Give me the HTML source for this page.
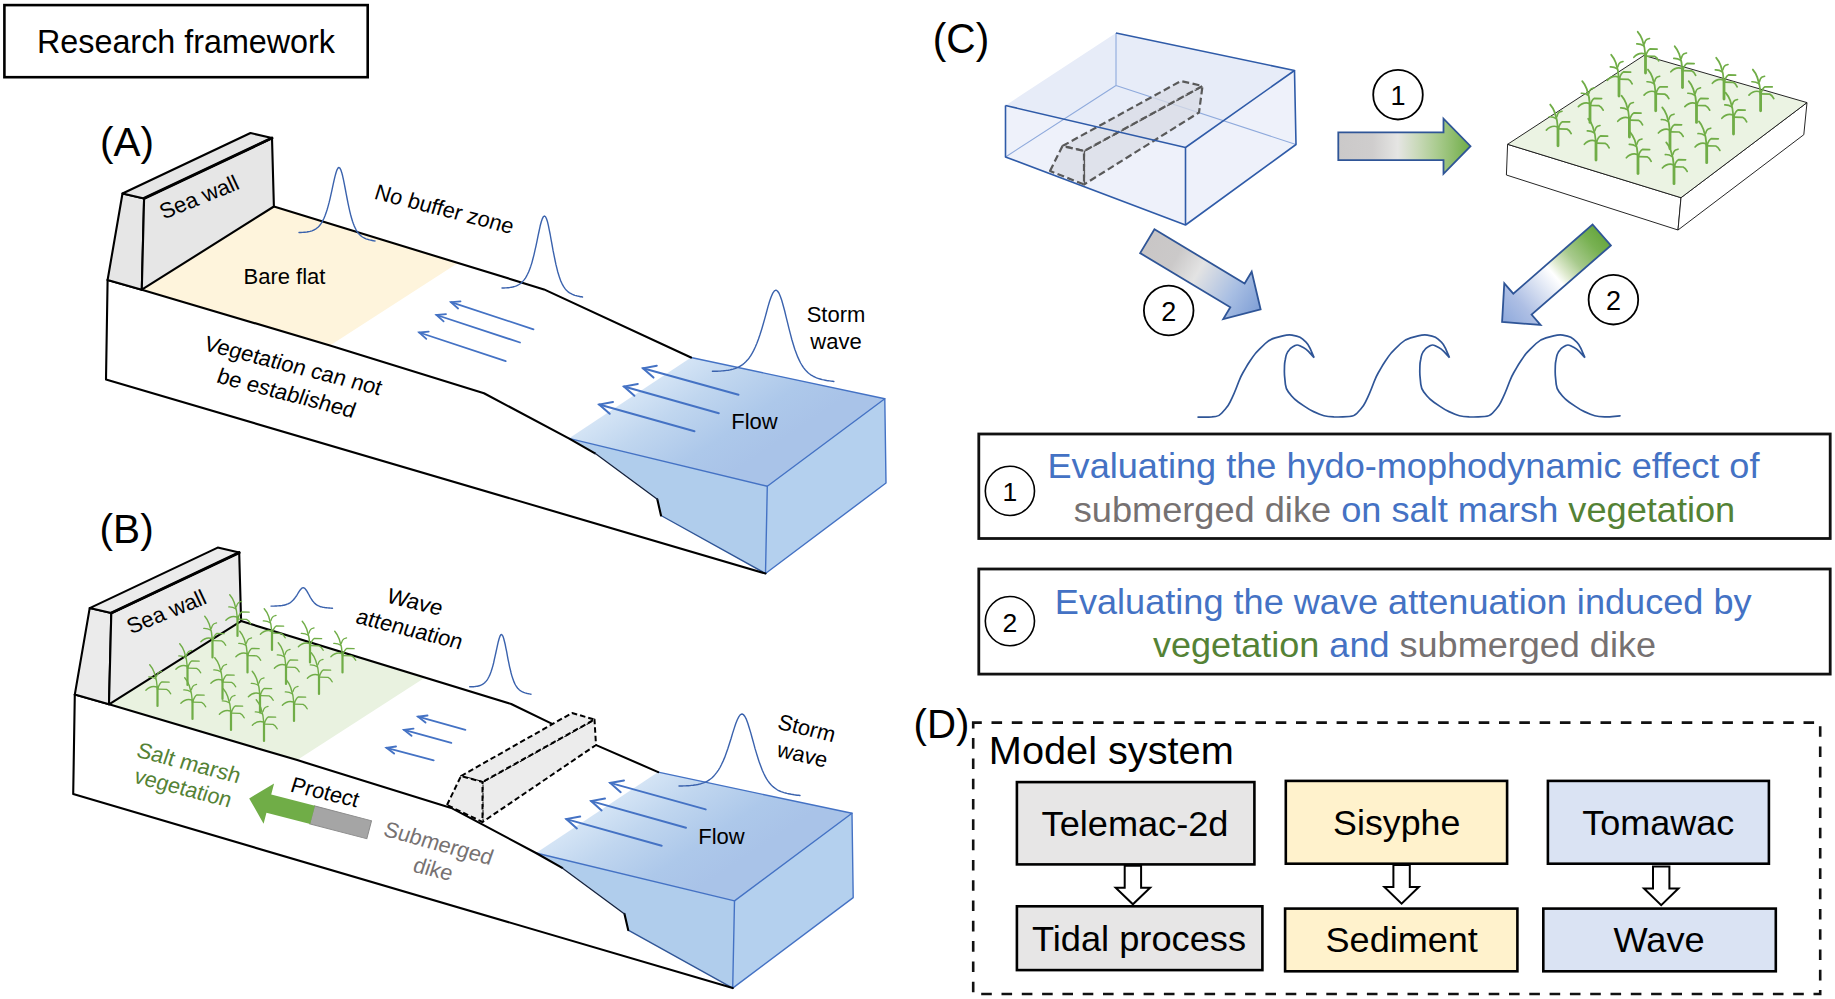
<!DOCTYPE html>
<html lang="en"><head><meta charset="utf-8"><title>Research framework</title>
<style>
html,body{margin:0;padding:0;background:#fff;}
body{width:1835px;height:999px;overflow:hidden;}
svg{display:block;}
text{font-family:"Liberation Sans",Arial,sans-serif;}
</style></head><body>
<svg width="1835" height="999" viewBox="0 0 1835 999">
<defs>
<linearGradient id="gWater" gradientUnits="userSpaceOnUse" x1="630" y1="398" x2="696" y2="497">
<stop offset="0" stop-color="#d4e4f5"/><stop offset="0.3" stop-color="#c0d6ef"/><stop offset="0.7" stop-color="#adc8ea"/><stop offset="1" stop-color="#a9c3e8"/>
</linearGradient>
<linearGradient id="gArrow1" x1="0" y1="0" x2="1" y2="0">
<stop offset="0" stop-color="#cbc9c9"/><stop offset="0.26" stop-color="#cfcdcd"/><stop offset="0.45" stop-color="#e5e5e3"/><stop offset="0.6" stop-color="#c9d9b9"/><stop offset="0.75" stop-color="#a9cb8e"/><stop offset="0.85" stop-color="#93bf72"/><stop offset="0.94" stop-color="#7db458"/><stop offset="1" stop-color="#6fac46"/>
</linearGradient>
<linearGradient id="gArrow2" x1="0" y1="0" x2="1" y2="0">
<stop offset="0" stop-color="#c9c6c6"/><stop offset="0.25" stop-color="#cbc9c9"/><stop offset="0.45" stop-color="#e3e3e3"/><stop offset="0.75" stop-color="#a9bfe3"/><stop offset="1" stop-color="#7f9fd6"/>
</linearGradient>
<linearGradient id="gArrow3" x1="0" y1="0" x2="1" y2="0">
<stop offset="0" stop-color="#69a741"/><stop offset="0.1" stop-color="#78b152"/><stop offset="0.28" stop-color="#a8ca8d"/><stop offset="0.4" stop-color="#dfeacf"/><stop offset="0.47" stop-color="#ffffff"/><stop offset="0.6" stop-color="#dfe6f4"/><stop offset="0.8" stop-color="#aebfe4"/><stop offset="1" stop-color="#8ea9dc"/>
</linearGradient>
<g id="plant" fill="none" stroke="#70ad47" stroke-linecap="round" stroke-linejoin="round">
<path d="M0,0 L0,-19" stroke-width="2.3"/>
<path d="M0,-17 Q-0.6,-27 -3.4,-34.5 Q-5.3,-39.5 -8,-42.5" stroke-width="1.5"/>
<path d="M0.4,-17.4 L9.4,-17.2 Q11.8,-16.2 13.6,-12.6" stroke-width="1.4"/>
<path d="M0.4,-18 Q2,-23.4 4.6,-24.8 L12,-24.6" stroke-width="1.4"/>
<path d="M-0.4,-19.6 Q-7,-21.6 -12,-16.2" stroke-width="1.4"/>
<path d="M-1.8,-28 Q-5,-30.2 -9,-30" stroke-width="1.3"/>
<path d="M-1.2,-30 Q-0.2,-34 1.6,-34.8 L4.2,-35.6" stroke-width="1.3"/>
</g>
<g id="plantC" fill="none" stroke="#70ad47" stroke-linecap="round" stroke-linejoin="round">
<path d="M0,0 L0,-19" stroke-width="2.88"/>
<path d="M0,-17 Q-0.6,-27 -3.4,-34.5 Q-5.3,-39.5 -8,-42.5" stroke-width="1.88"/>
<path d="M0.4,-17.4 L9.4,-17.2 Q11.8,-16.2 13.6,-12.6" stroke-width="1.75"/>
<path d="M0.4,-18 Q2,-23.4 4.6,-24.8 L12,-24.6" stroke-width="1.75"/>
<path d="M-0.4,-19.6 Q-7,-21.6 -12,-16.2" stroke-width="1.75"/>
<path d="M-1.8,-28 Q-5,-30.2 -9,-30" stroke-width="1.62"/>
<path d="M-1.2,-30 Q-0.2,-34 1.6,-34.8 L4.2,-35.6" stroke-width="1.62"/>
</g>
<path id="bigArrow" d="M0,-13.9 L105.2,-13.9 L105.2,-27.6 L132.2,0 L105.2,27.6 L105.2,13.9 L0,13.9 Z"/>
<path id="downArrow" d="M-8.2,0 L8.2,0 L8.2,22 L17.2,22 L0,38.6 L-17.2,22 L-8.2,22 Z" fill="#fff" stroke="#000" stroke-width="2" stroke-linejoin="miter"/>
</defs>
<rect x="0" y="0" width="1835" height="999" fill="#fff"/>

<rect x="4.4" y="5.1" width="363.3" height="72.1" fill="#fff" stroke="#000" stroke-width="2.6"/>
<text x="37" y="52.5" font-size="32.5" textLength="298" lengthAdjust="spacingAndGlyphs" fill="#000">Research framework</text>
<g transform="translate(0.0,0.0)">
<polygon points="107.6,280.0 141.8,289.7 273.9,206.5 542.5,289.0 691.0,357.5 884.8,398.7 886.0,483.0 765.5,573.5 106.0,379.5" fill="#fff" stroke="none"/>
<polygon points="141.8,289.7 273.9,206.5 457.9,263.0 330.0,345.5" fill="#fef4dc"/>
<polygon points="568.8,438.4 691.0,357.5 884.8,398.7 767.3,486.3" fill="url(#gWater)"/>
<polygon points="568.8,438.4 767.3,486.3 765.5,573.5 661.0,515.5 657.3,499.3 596.0,453.7" fill="#b0cdec"/>
<polygon points="767.3,486.3 884.8,398.7 886.0,483.0 765.5,573.5" fill="#b4d0ee"/>
<g fill="none" stroke="#4472c4" stroke-width="1.4" stroke-linejoin="round" stroke-linecap="round">
<path d="M691,357.5 L884.8,398.7 L767.3,486.3 L568.8,438.4"/>
<path d="M884.8,398.7 L886,483 L765.5,573.5 L767.3,486.3"/>
<path d="M661,515.5 L765.5,573.5" stroke="#2f5597"/>
</g>
<g fill="none" stroke="#000" stroke-width="2.1" stroke-linejoin="round" stroke-linecap="round">
<path d="M107.6,280 L106,379.5 L765.5,573.5"/>
<path d="M107.6,280 L141.8,289.7 L330,345.5 L484,393.3 L568.8,438.4 L595,453.3"/>
<path d="M657.3,499.3 L661,515.5"/>
<path d="M595,453.3 L657.3,499.3" stroke="#14213d" stroke-width="1.3"/>
<path d="M273.9,206.5 L544,289.4 L691,357.5"/>
</g>
<g stroke="#000" stroke-width="2.1" stroke-linejoin="round">
<polygon points="122.5,193.5 144.1,198.4 141.8,289.7 107.6,280.0" fill="#e6e6e6"/>
<polygon points="144.1,198.4 272.0,138.0 273.9,206.5 141.8,289.7" fill="#e6e6e6"/>
<polygon points="122.5,193.5 250.5,133.0 272.0,138.0 144.1,198.4" fill="#e6e6e6"/>
</g>
<path d="M144.1,198.4 L272,138" stroke="#000" stroke-width="2.9" stroke-linecap="round"/>
<text transform="translate(202.3,204.0) rotate(-22.0) skewX(3.0) scale(1.000,1)" font-size="22.0" text-anchor="middle" fill="#000" >Sea wall</text>
</g>
<text x="100" y="155.9" font-size="40.5" fill="#000">(A)</text>
<g fill="none" stroke="#3a62ad" stroke-width="1.4" stroke-linejoin="round" stroke-linecap="round">
<path d="M299.0,232.5 L300.0,232.5 L301.0,232.5 L302.0,232.4 L303.0,232.4 L304.0,232.3 L305.0,232.2 L306.0,232.1 L307.0,232.0 L308.0,231.8 L309.0,231.6 L310.0,231.4 L311.0,231.1 L312.0,230.8 L313.0,230.4 L314.0,230.0 L315.0,229.4 L316.0,228.8 L317.0,228.0 L318.0,227.2 L319.0,226.2 L320.0,225.0 L321.0,223.6 L322.0,222.1 L323.0,220.2 L324.0,218.2 L325.0,215.8 L326.0,213.1 L327.0,210.0 L328.0,206.6 L329.0,202.9 L330.0,198.8 L331.0,194.4 L332.0,189.9 L333.0,185.2 L334.0,180.6 L335.0,176.4 L336.0,172.7 L337.0,169.8 L338.0,168.0 L339.0,167.5 L339.9,168.1 L340.8,169.8 L341.7,172.4 L342.6,175.8 L343.5,179.8 L344.4,184.3 L345.3,189.0 L346.2,193.8 L347.1,198.5 L348.0,203.1 L348.9,207.3 L349.8,211.3 L350.7,215.0 L351.6,218.2 L352.5,221.2 L353.4,223.8 L354.3,226.1 L355.2,228.0 L356.1,229.8 L357.0,231.3 L357.9,232.6 L358.8,233.8 L359.7,234.7 L360.6,235.6 L361.5,236.3 L362.4,237.0 L363.3,237.5 L364.2,238.0 L365.1,238.4 L366.0,238.8 L366.9,239.1 L367.8,239.4 L368.7,239.7 L369.6,239.9 L370.5,240.1 L371.4,240.3 L372.3,240.5 L373.2,240.7 L374.1,240.9 L375.0,241.0"/>
<path d="M502.0,288.0 L503.1,288.0 L504.1,288.0 L505.2,287.9 L506.2,287.9 L507.3,287.8 L508.4,287.7 L509.4,287.6 L510.5,287.4 L511.6,287.2 L512.6,287.0 L513.7,286.7 L514.8,286.4 L515.8,286.1 L516.9,285.6 L517.9,285.1 L519.0,284.5 L520.1,283.8 L521.1,283.0 L522.2,282.0 L523.2,280.9 L524.3,279.6 L525.4,278.1 L526.4,276.4 L527.5,274.3 L528.6,272.0 L529.6,269.4 L530.7,266.4 L531.8,263.1 L532.8,259.3 L533.9,255.1 L534.9,250.6 L536.0,245.8 L537.1,240.7 L538.1,235.6 L539.2,230.5 L540.2,225.8 L541.3,221.7 L542.4,218.6 L543.4,216.6 L544.5,216.0 L545.5,216.7 L546.4,218.5 L547.4,221.4 L548.3,225.1 L549.2,229.6 L550.2,234.5 L551.1,239.7 L552.1,245.0 L553.0,250.2 L554.0,255.2 L555.0,260.0 L555.9,264.4 L556.9,268.4 L557.8,272.0 L558.8,275.2 L559.7,278.1 L560.6,280.6 L561.6,282.8 L562.5,284.7 L563.5,286.4 L564.5,287.8 L565.4,289.1 L566.4,290.2 L567.3,291.1 L568.2,291.9 L569.2,292.6 L570.1,293.2 L571.1,293.7 L572.0,294.2 L573.0,294.6 L574.0,295.0 L574.9,295.3 L575.9,295.6 L576.8,295.8 L577.8,296.1 L578.7,296.3 L579.6,296.5 L580.6,296.7 L581.5,296.8 L582.5,297.0"/>
<path d="M712.4,371.3 L714.0,371.3 L715.6,371.3 L717.2,371.2 L718.8,371.1 L720.4,371.1 L721.9,370.9 L723.5,370.8 L725.1,370.6 L726.7,370.4 L728.3,370.2 L729.9,369.9 L731.5,369.5 L733.1,369.1 L734.7,368.6 L736.2,368.0 L737.8,367.4 L739.4,366.6 L741.0,365.6 L742.6,364.6 L744.2,363.3 L745.8,361.8 L747.4,360.1 L749.0,358.2 L750.6,355.9 L752.1,353.3 L753.7,350.4 L755.3,347.0 L756.9,343.2 L758.5,339.0 L760.1,334.3 L761.7,329.2 L763.3,323.8 L764.9,318.1 L766.5,312.3 L768.0,306.6 L769.6,301.3 L771.2,296.7 L772.8,293.1 L774.4,290.9 L776.0,290.2 L777.4,291.0 L778.9,293.0 L780.3,296.3 L781.8,300.5 L783.2,305.5 L784.7,311.0 L786.1,316.9 L787.6,322.9 L789.0,328.7 L790.5,334.4 L791.9,339.7 L793.4,344.7 L794.8,349.2 L796.3,353.3 L797.7,356.9 L799.2,360.1 L800.6,363.0 L802.1,365.5 L803.5,367.6 L805.0,369.5 L806.4,371.1 L807.8,372.5 L809.3,373.8 L810.7,374.8 L812.2,375.7 L813.6,376.5 L815.1,377.2 L816.5,377.8 L818.0,378.3 L819.4,378.8 L820.9,379.2 L822.3,379.6 L823.8,379.9 L825.2,380.2 L826.7,380.5 L828.1,380.7 L829.6,380.9 L831.0,381.1 L832.5,381.3 L833.9,381.5"/>
</g>
<g fill="none" stroke="#4472c4" stroke-width="1.8" stroke-linecap="round" stroke-linejoin="miter"><path d="M533.5,329.3 L451.0,302.2" /><path d="M458.1,308.5 L451.0,302.2 L460.5,301.4" /></g>
<g fill="none" stroke="#4472c4" stroke-width="1.8" stroke-linecap="round" stroke-linejoin="miter"><path d="M520.0,342.5 L436.5,315.0" /><path d="M443.6,321.3 L436.5,315.0 L446.0,314.2" /></g>
<g fill="none" stroke="#4472c4" stroke-width="1.8" stroke-linecap="round" stroke-linejoin="miter"><path d="M505.7,361.2 L419.2,332.5" /><path d="M426.3,338.8 L419.2,332.5 L428.7,331.7" /></g>
<g fill="none" stroke="#4472c4" stroke-width="2.0" stroke-linecap="round" stroke-linejoin="miter"><path d="M738.5,394.8 L643.0,368.3" /><path d="M653.5,377.6 L643.0,368.3 L656.8,365.8" /></g>
<g fill="none" stroke="#4472c4" stroke-width="2.0" stroke-linecap="round" stroke-linejoin="miter"><path d="M718.8,413.2 L624.0,386.5" /><path d="M634.4,395.8 L624.0,386.5 L637.8,384.0" /></g>
<g fill="none" stroke="#4472c4" stroke-width="2.0" stroke-linecap="round" stroke-linejoin="miter"><path d="M694.5,431.2 L599.2,404.5" /><path d="M609.7,413.8 L599.2,404.5 L613.0,402.0" /></g>
<text x="243.5" y="283.5" font-size="22" fill="#000">Bare flat</text>
<text transform="translate(442.3,216.2) rotate(14.4) skewX(-3.0) scale(0.990,1)" font-size="22.0" text-anchor="middle" fill="#000" >No buffer zone</text>
<text transform="translate(290.8,372.6) rotate(14.4) skewX(-5.0) scale(1.000,1)" font-size="22.0" text-anchor="middle" fill="#000" >Vegetation can not</text>
<text transform="translate(284.0,400.2) rotate(14.6) skewX(-5.0) scale(1.000,1)" font-size="22.0" text-anchor="middle" fill="#000" >be established</text>
<text x="836" y="322" font-size="22" text-anchor="middle" fill="#000">Storm</text>
<text x="836" y="348.5" font-size="22" text-anchor="middle" fill="#000">wave</text>
<text x="754.5" y="428.5" font-size="22" text-anchor="middle" fill="#000">Flow</text>
<g transform="translate(-32.8,414.6)">
<polygon points="107.6,280.0 141.8,289.7 273.9,206.5 542.5,289.0 691.0,357.5 884.8,398.7 886.0,483.0 765.5,573.5 106.0,379.5" fill="#fff" stroke="none"/>
<polygon points="141.8,289.7 273.9,206.5 457.9,263.0 330.0,345.5" fill="#e9f2e0"/>
<polygon points="568.8,438.4 691.0,357.5 884.8,398.7 767.3,486.3" fill="url(#gWater)"/>
<polygon points="568.8,438.4 767.3,486.3 765.5,573.5 661.0,515.5 657.3,499.3 596.0,453.7" fill="#b0cdec"/>
<polygon points="767.3,486.3 884.8,398.7 886.0,483.0 765.5,573.5" fill="#b4d0ee"/>
<g fill="none" stroke="#4472c4" stroke-width="1.4" stroke-linejoin="round" stroke-linecap="round">
<path d="M691,357.5 L884.8,398.7 L767.3,486.3 L568.8,438.4"/>
<path d="M884.8,398.7 L886,483 L765.5,573.5 L767.3,486.3"/>
<path d="M661,515.5 L765.5,573.5" stroke="#2f5597"/>
</g>
<g fill="none" stroke="#000" stroke-width="2.1" stroke-linejoin="round" stroke-linecap="round">
<path d="M107.6,280 L106,379.5 L765.5,573.5"/>
<path d="M107.6,280 L141.8,289.7 L330,345.5 L484,393.3 L568.8,438.4 L595,453.3"/>
<path d="M657.3,499.3 L661,515.5"/>
<path d="M595,453.3 L657.3,499.3" stroke="#14213d" stroke-width="1.3"/>
<path d="M273.9,206.5 L544,289.4 L585.5,309.5"/>
<path d="M629,330.5 L691,357.5"/>
</g>
<g stroke="#000" stroke-width="2.1" stroke-linejoin="round">
<polygon points="122.5,193.5 144.1,198.4 141.8,289.7 107.6,280.0" fill="#ebebeb"/>
<polygon points="144.1,198.4 272.0,138.0 273.9,206.5 141.8,289.7" fill="#ebebeb"/>
<polygon points="122.5,193.5 250.5,133.0 272.0,138.0 144.1,198.4" fill="#ebebeb"/>
</g>
<path d="M144.1,198.4 L272,138" stroke="#000" stroke-width="2.9" stroke-linecap="round"/>
<text transform="translate(202.3,204.0) rotate(-22.0) skewX(3.0) scale(1.000,1)" font-size="22.0" text-anchor="middle" fill="#000" >Sea wall</text>
</g>
<text x="99.6" y="543.2" font-size="40.6" fill="#000">(B)</text>
<use href="#plant" transform="translate(237.5,636.0) scale(0.97)"/>
<use href="#plant" transform="translate(272.0,650.0) scale(0.97)"/>
<use href="#plant" transform="translate(212.5,657.5) scale(0.97)"/>
<use href="#plant" transform="translate(310.0,662.5) scale(0.97)"/>
<use href="#plant" transform="translate(247.5,672.5) scale(0.97)"/>
<use href="#plant" transform="translate(342.5,672.5) scale(0.97)"/>
<use href="#plant" transform="translate(286.0,684.0) scale(0.97)"/>
<use href="#plant" transform="translate(187.5,685.0) scale(0.97)"/>
<use href="#plant" transform="translate(319.0,694.0) scale(0.97)"/>
<use href="#plant" transform="translate(222.5,699.0) scale(0.97)"/>
<use href="#plant" transform="translate(157.5,706.0) scale(0.97)"/>
<use href="#plant" transform="translate(260.0,712.5) scale(0.97)"/>
<use href="#plant" transform="translate(192.5,719.0) scale(0.97)"/>
<use href="#plant" transform="translate(294.0,721.0) scale(0.97)"/>
<use href="#plant" transform="translate(231.0,730.0) scale(0.97)"/>
<use href="#plant" transform="translate(264.0,741.0) scale(0.97)"/>
<g fill="none" stroke="#3a62ad" stroke-width="1.4" stroke-linejoin="round" stroke-linecap="round">
<path d="M271.0,606.1 L271.8,606.1 L272.6,606.1 L273.4,606.1 L274.2,606.1 L275.0,606.0 L275.8,606.0 L276.6,606.0 L277.4,605.9 L278.2,605.9 L279.1,605.8 L279.9,605.8 L280.7,605.7 L281.5,605.6 L282.3,605.5 L283.1,605.3 L283.9,605.2 L284.7,605.0 L285.5,604.8 L286.3,604.5 L287.1,604.2 L287.9,603.9 L288.7,603.5 L289.5,603.1 L290.3,602.6 L291.1,602.0 L291.9,601.3 L292.7,600.5 L293.5,599.7 L294.3,598.7 L295.1,597.7 L296.0,596.5 L296.8,595.3 L297.6,594.0 L298.4,592.7 L299.2,591.4 L300.0,590.2 L300.8,589.2 L301.6,588.4 L302.4,587.9 L303.2,587.7 L303.9,587.9 L304.7,588.3 L305.4,589.1 L306.1,590.0 L306.9,591.1 L307.6,592.4 L308.3,593.7 L309.1,595.0 L309.8,596.4 L310.5,597.6 L311.3,598.8 L312.0,600.0 L312.7,601.0 L313.5,601.9 L314.2,602.7 L314.9,603.4 L315.7,604.1 L316.4,604.6 L317.1,605.1 L317.9,605.5 L318.6,605.9 L319.3,606.2 L320.0,606.5 L320.8,606.7 L321.5,606.9 L322.2,607.1 L323.0,607.3 L323.7,607.4 L324.4,607.5 L325.2,607.6 L325.9,607.7 L326.6,607.8 L327.4,607.9 L328.1,607.9 L328.8,608.0 L329.6,608.0 L330.3,608.1 L331.0,608.1 L331.8,608.2 L332.5,608.2"/>
<path d="M469.7,686.8 L470.5,686.8 L471.3,686.8 L472.1,686.8 L472.9,686.7 L473.7,686.7 L474.5,686.6 L475.3,686.5 L476.1,686.4 L476.9,686.3 L477.6,686.2 L478.4,686.0 L479.2,685.8 L480.0,685.5 L480.8,685.2 L481.6,684.8 L482.4,684.4 L483.2,683.9 L484.0,683.3 L484.8,682.6 L485.6,681.8 L486.4,680.9 L487.2,679.8 L488.0,678.5 L488.8,677.0 L489.6,675.4 L490.4,673.4 L491.2,671.3 L492.0,668.8 L492.8,666.1 L493.6,663.0 L494.3,659.7 L495.1,656.2 L495.9,652.5 L496.7,648.8 L497.5,645.1 L498.3,641.7 L499.1,638.7 L499.9,636.4 L500.7,634.9 L501.5,634.5 L502.2,635.0 L503.0,636.4 L503.7,638.5 L504.4,641.2 L505.2,644.5 L505.9,648.1 L506.7,651.9 L507.4,655.8 L508.1,659.6 L508.9,663.3 L509.6,666.8 L510.4,670.0 L511.1,673.0 L511.8,675.6 L512.6,678.0 L513.3,680.1 L514.0,681.9 L514.8,683.6 L515.5,685.0 L516.2,686.2 L517.0,687.3 L517.7,688.2 L518.5,689.0 L519.2,689.7 L519.9,690.3 L520.7,690.8 L521.4,691.3 L522.1,691.7 L522.9,692.0 L523.6,692.3 L524.4,692.6 L525.1,692.9 L525.8,693.1 L526.6,693.3 L527.3,693.5 L528.0,693.6 L528.8,693.8 L529.5,693.9 L530.3,694.1 L531.0,694.2"/>
<path d="M679.0,786.0 L680.6,786.0 L682.1,786.0 L683.7,785.9 L685.3,785.9 L686.9,785.8 L688.5,785.7 L690.0,785.6 L691.6,785.4 L693.2,785.3 L694.8,785.0 L696.3,784.8 L697.9,784.5 L699.5,784.1 L701.0,783.7 L702.6,783.2 L704.2,782.6 L705.8,781.9 L707.4,781.1 L708.9,780.1 L710.5,779.0 L712.1,777.7 L713.6,776.2 L715.2,774.4 L716.8,772.4 L718.4,770.1 L720.0,767.5 L721.5,764.5 L723.1,761.1 L724.7,757.4 L726.2,753.2 L727.8,748.7 L729.4,743.8 L731.0,738.8 L732.5,733.6 L734.1,728.6 L735.7,723.8 L737.3,719.7 L738.9,716.6 L740.4,714.6 L742.0,714.0 L743.5,714.7 L744.9,716.5 L746.4,719.4 L747.8,723.2 L749.2,727.7 L750.7,732.6 L752.1,737.8 L753.6,743.1 L755.0,748.4 L756.5,753.4 L758.0,758.2 L759.4,762.6 L760.9,766.6 L762.3,770.2 L763.8,773.5 L765.2,776.4 L766.6,778.9 L768.1,781.1 L769.5,783.0 L771.0,784.7 L772.5,786.2 L773.9,787.4 L775.4,788.5 L776.8,789.5 L778.2,790.3 L779.7,791.0 L781.1,791.6 L782.6,792.1 L784.0,792.6 L785.5,793.0 L787.0,793.4 L788.4,793.7 L789.9,794.0 L791.3,794.3 L792.8,794.5 L794.2,794.8 L795.6,795.0 L797.1,795.2 L798.5,795.3 L800.0,795.5"/>
</g>
<g fill="none" stroke="#4472c4" stroke-width="1.9" stroke-linecap="round" stroke-linejoin="miter"><path d="M465.4,729.8 L418.1,716.7" /><path d="M425.5,722.6 L418.1,716.7 L427.5,715.5" /></g>
<g fill="none" stroke="#4472c4" stroke-width="1.9" stroke-linecap="round" stroke-linejoin="miter"><path d="M451.3,742.9 L404.1,729.9" /><path d="M411.5,735.8 L404.1,729.9 L413.5,728.6" /></g>
<g fill="none" stroke="#4472c4" stroke-width="1.9" stroke-linecap="round" stroke-linejoin="miter"><path d="M433.7,760.3 L386.6,747.8" /><path d="M394.1,753.6 L386.6,747.8 L396.0,746.5" /></g>
<g fill="none" stroke="#4472c4" stroke-width="2.0" stroke-linecap="round" stroke-linejoin="miter"><path d="M705.7,809.4 L610.2,782.9" /><path d="M620.7,792.2 L610.2,782.9 L624.0,780.4" /></g>
<g fill="none" stroke="#4472c4" stroke-width="2.0" stroke-linecap="round" stroke-linejoin="miter"><path d="M686.0,827.8 L591.2,801.1" /><path d="M601.6,810.4 L591.2,801.1 L605.0,798.6" /></g>
<g fill="none" stroke="#4472c4" stroke-width="2.0" stroke-linecap="round" stroke-linejoin="miter"><path d="M661.7,845.8 L566.4,819.1" /><path d="M576.9,828.4 L566.4,819.1 L580.2,816.6" /></g>
<g stroke="#000" stroke-width="2" stroke-dasharray="5.5,3" stroke-linejoin="round" fill="#ececec">
<polygon points="482.5,782.0 594.5,719.5 596.0,745.0 482.5,822.0"/>
<polygon points="461.0,776.0 572.0,713.0 594.5,719.5 482.5,782.0"/>
<polygon points="447.0,805.0 461.0,776.0 482.5,782.0 482.5,822.0"/>
</g>
<g transform="translate(249.2,798.4) rotate(14.65)">
<rect x="65" y="-9.3" width="59" height="18.6" fill="#a5a5a5" stroke="#8a8a8a" stroke-width="1"/>
<polygon points="0,0 20.3,-20.8 20.3,-9.4 65.5,-9.4 65.5,9.4 20.3,9.4 20.3,20.8" fill="#70ad47"/>
</g>
<text transform="translate(186.5,770.0) rotate(14.6) skewX(-4.0) scale(1.010,1)" font-size="22.0" text-anchor="middle" fill="#548235" >Salt marsh</text>
<text transform="translate(180.8,795.0) rotate(14.6) skewX(-4.0) scale(0.980,1)" font-size="22.0" text-anchor="middle" fill="#548235" >vegetation</text>
<text transform="translate(322.9,799.4) rotate(13.5) skewX(-4.0) scale(0.990,1)" font-size="22.0" text-anchor="middle" fill="#000" >Protect</text>
<text transform="translate(436.2,850.3) rotate(15.4) skewX(-4.0) scale(0.985,1)" font-size="22.0" text-anchor="middle" fill="#767171" >Submerged</text>
<text transform="translate(431.0,876.2) rotate(14.0) skewX(-4.0) scale(0.985,1)" font-size="22.0" text-anchor="middle" fill="#767171" >dike</text>
<text transform="translate(412.6,609.0) rotate(14.0) skewX(-5.0) scale(1.020,1)" font-size="22.0" text-anchor="middle" fill="#000" >Wave</text>
<text transform="translate(407.2,636.2) rotate(14.2) skewX(-5.0) scale(1.000,1)" font-size="22.0" text-anchor="middle" fill="#000" >attenuation</text>
<text transform="translate(804.8,735.4) rotate(13.6) skewX(-2.0) scale(0.990,1)" font-size="22.0" text-anchor="middle" fill="#000" >Storm</text>
<text transform="translate(800.6,762.0) rotate(13.0) skewX(-2.0) scale(0.990,1)" font-size="22.0" text-anchor="middle" fill="#000" >wave</text>
<text x="721.5" y="843.5" font-size="22" text-anchor="middle" fill="#000">Flow</text>
<text transform="translate(932.8,53) scale(0.94,1)" font-size="43.2" fill="#000">(C)</text>
<g stroke-linejoin="round">
<polygon points="1005.5,105.5 1116.0,33.0 1294.5,70.5 1185.5,147.5" fill="#e7ecf8" stroke="none"/>
<polygon points="1005.5,105.5 1185.5,147.5 1185.5,225.0 1005.5,157.0" fill="#eef1fa" stroke="none"/>
<polygon points="1185.5,147.5 1294.5,70.5 1296.0,144.5 1185.5,225.0" fill="#eef1fa" stroke="none"/>
<g fill="none" stroke="#8faadc" stroke-width="1.1"><path d="M1116,33 L1116,85.5 L1005.5,157 M1116,85.5 L1296,144.5"/></g>
<g stroke="#595959" stroke-width="2.2" stroke-dasharray="7,3.5" fill="#d9dce6" fill-opacity="0.75">
<polygon points="1084.0,151.0 1202.5,86.0 1199.0,112.5 1084.0,184.5"/>
<polygon points="1062.5,146.0 1181.0,81.0 1202.5,86.0 1084.0,151.0"/>
<polygon points="1050.0,171.0 1062.5,146.0 1084.0,151.0 1084.0,184.5"/>
</g>
<g fill="none" stroke="#2f5ba8" stroke-width="1.6">
<path d="M1116,33 L1294.5,70.5 L1185.5,147.5 L1005.5,105.5"/>
<path d="M1005.5,105.5 L1005.5,157 L1185.5,225 L1296,144.5 L1294.5,70.5"/>
<path d="M1185.5,147.5 L1185.5,225"/>
</g></g>
<use href="#bigArrow" transform="translate(1338.3,146.2)" fill="url(#gArrow1)" stroke="#2f5597" stroke-width="1.8"/>
<use href="#bigArrow" transform="translate(1147.3,241.2) rotate(31)" fill="url(#gArrow2)" stroke="#2f5597" stroke-width="1.8"/>
<use href="#bigArrow" transform="translate(1601.7,235) rotate(138.9)" fill="url(#gArrow3)" stroke="#2f5597" stroke-width="1.8"/>
<circle cx="1398.0" cy="94.7" r="24.8" fill="#fff" stroke="#000" stroke-width="1.8"/>
<text x="1398.0" y="105.3" font-size="27.0" text-anchor="middle" fill="#000">1</text>
<circle cx="1168.7" cy="310.5" r="24.8" fill="#fff" stroke="#000" stroke-width="1.8"/>
<text x="1168.7" y="321.1" font-size="27.0" text-anchor="middle" fill="#000">2</text>
<circle cx="1613.4" cy="299.7" r="24.8" fill="#fff" stroke="#000" stroke-width="1.8"/>
<text x="1613.4" y="310.3" font-size="27.0" text-anchor="middle" fill="#000">2</text>
<g stroke="#1a1a1a" stroke-width="0.95" stroke-linejoin="round">
<polygon points="1507.6,144.3 1681.0,197.7 1678.0,230.0 1506.4,175.0" fill="#fff"/>
<polygon points="1681.0,197.7 1807.0,102.6 1803.8,134.7 1678.0,230.0" fill="#fff"/>
<polygon points="1507.6,144.3 1644.0,55.4 1807.0,102.6 1681.0,197.7" fill="#ebf3e3"/>
</g>
<use href="#plantC" transform="translate(1645.5,73.0) scale(0.97)"/>
<use href="#plantC" transform="translate(1682.5,87.5) scale(0.97)"/>
<use href="#plantC" transform="translate(1619.0,96.0) scale(0.97)"/>
<use href="#plantC" transform="translate(1724.0,99.0) scale(0.97)"/>
<use href="#plantC" transform="translate(1655.7,110.8) scale(0.97)"/>
<use href="#plantC" transform="translate(1760.6,110.8) scale(0.97)"/>
<use href="#plantC" transform="translate(1590.0,122.4) scale(0.97)"/>
<use href="#plantC" transform="translate(1696.5,122.4) scale(0.97)"/>
<use href="#plantC" transform="translate(1733.5,134.0) scale(0.97)"/>
<use href="#plantC" transform="translate(1629.4,137.0) scale(0.97)"/>
<use href="#plantC" transform="translate(1558.0,145.8) scale(0.97)"/>
<use href="#plantC" transform="translate(1670.0,148.7) scale(0.97)"/>
<use href="#plantC" transform="translate(1596.0,160.0) scale(0.97)"/>
<use href="#plantC" transform="translate(1706.7,162.7) scale(0.97)"/>
<use href="#plantC" transform="translate(1638.0,173.5) scale(0.97)"/>
<use href="#plantC" transform="translate(1674.0,183.7) scale(0.97)"/>
<path d="M1198.1,417.1 L1205.6,417.1 Q1208.8,417.1 1211.8,416.9 L1215.8,416.5 Q1218.8,416.3 1221.6,413.2 L1225.4,409.0 Q1228.2,405.9 1229.9,402.3 L1232.2,397.6 Q1233.9,394.0 1236.0,388.7 L1238.7,381.7 Q1240.8,376.4 1242.9,372.8 L1245.6,368.1 Q1247.7,364.5 1250.0,361.1 L1253.0,356.6 Q1255.2,353.2 1259.5,349.1 L1265.3,343.5 Q1269.6,339.4 1275.2,337.9 L1282.8,335.9 Q1288.4,334.4 1292.0,335.1 L1296.7,336.1 Q1300.3,336.9 1302.7,339.1 L1306.0,342.1 Q1308.4,344.4 1310.1,348.4 L1314.1,357.6 L1314.1,357.6 L1308.4,351.4 Q1305.9,348.8 1303.3,347.5 L1299.8,345.7 Q1297.2,344.4 1295.1,345.5 L1292.4,347.1 Q1290.3,348.2 1289.2,349.9 L1287.6,352.1 Q1286.5,353.8 1285.9,356.4 L1285.2,360.0 Q1284.6,362.6 1284.5,366.0 L1284.4,370.5 Q1284.3,373.9 1284.8,378.4 L1285.4,384.4 Q1285.9,388.9 1288.3,391.9 L1291.6,396.0 Q1294.0,399.0 1298.5,402.2 L1304.6,406.4 Q1309.1,409.6 1313.6,411.6 L1319.6,414.3 Q1324.1,416.3 1328.2,416.5 L1333.8,416.9 Q1337.9,417.1 1342.8,416.9 L1349.3,416.5 Q1354.2,416.3 1357.0,413.2 L1360.8,409.0 Q1363.6,405.9 1365.3,402.3 L1367.6,397.6 Q1369.3,394.0 1371.4,388.7 L1374.1,381.7 Q1376.2,376.4 1378.3,372.8 L1381.0,368.1 Q1383.1,364.5 1385.4,361.1 L1388.4,356.6 Q1390.6,353.2 1394.9,349.1 L1400.7,343.5 Q1405.0,339.4 1410.6,337.9 L1418.2,335.9 Q1423.8,334.4 1427.4,335.1 L1432.1,336.1 Q1435.7,336.9 1438.1,339.1 L1441.4,342.1 Q1443.8,344.4 1445.5,348.4 L1449.5,357.6 L1449.5,357.6 L1443.8,351.4 Q1441.3,348.8 1438.7,347.5 L1435.2,345.7 Q1432.6,344.4 1430.5,345.5 L1427.8,347.1 Q1425.7,348.2 1424.6,349.9 L1423.0,352.1 Q1421.9,353.8 1421.3,356.4 L1420.6,360.0 Q1420.0,362.6 1419.9,366.0 L1419.8,370.5 Q1419.7,373.9 1420.2,378.4 L1420.8,384.4 Q1421.3,388.9 1423.7,391.9 L1427.0,396.0 Q1429.4,399.0 1433.9,402.2 L1440.0,406.4 Q1444.5,409.6 1449.0,411.6 L1455.0,414.3 Q1459.5,416.3 1463.6,416.5 L1469.2,416.9 Q1473.3,417.1 1478.2,416.9 L1484.7,416.5 Q1489.6,416.3 1492.4,413.2 L1496.2,409.0 Q1499.0,405.9 1500.7,402.3 L1503.0,397.6 Q1504.7,394.0 1506.8,388.7 L1509.5,381.7 Q1511.6,376.4 1513.7,372.8 L1516.4,368.1 Q1518.5,364.5 1520.8,361.1 L1523.8,356.6 Q1526.0,353.2 1530.3,349.1 L1536.1,343.5 Q1540.4,339.4 1546.0,337.9 L1553.6,335.9 Q1559.2,334.4 1562.8,335.1 L1567.5,336.1 Q1571.1,336.9 1573.5,339.1 L1576.8,342.1 Q1579.2,344.4 1580.9,348.4 L1584.9,357.6 L1584.9,357.6 L1579.2,351.4 Q1576.7,348.8 1574.1,347.5 L1570.6,345.7 Q1568.0,344.4 1565.9,345.5 L1563.2,347.1 Q1561.1,348.2 1560.0,349.9 L1558.4,352.1 Q1557.3,353.8 1556.7,356.4 L1556.0,360.0 Q1555.4,362.6 1555.3,366.0 L1555.2,370.5 Q1555.1,373.9 1555.6,378.4 L1556.2,384.4 Q1556.7,388.9 1559.1,391.9 L1562.4,396.0 Q1564.8,399.0 1569.3,402.2 L1575.4,406.4 Q1579.9,409.6 1584.4,411.6 L1590.4,414.3 Q1594.9,416.3 1599.0,416.5 L1604.6,416.9 Q1608.7,417.1 1612.1,416.7 L1620.0,415.8 " fill="none" stroke="#2f5597" stroke-width="1.7" stroke-linejoin="miter" stroke-linecap="round"/>
<rect x="978.8" y="434" width="851.4" height="104.5" fill="#fff" stroke="#111" stroke-width="2.8"/>
<rect x="978.8" y="569" width="851.4" height="105.1" fill="#fff" stroke="#111" stroke-width="2.8"/>
<circle cx="1009.9" cy="490.9" r="24.6" fill="#fff" stroke="#000" stroke-width="1.6"/>
<text x="1009.9" y="501.3" font-size="26.5" text-anchor="middle" fill="#000">1</text>
<circle cx="1009.9" cy="621.1" r="24.6" fill="#fff" stroke="#000" stroke-width="1.6"/>
<text x="1009.9" y="631.5" font-size="26.5" text-anchor="middle" fill="#000">2</text>
<text x="1403.5" y="478.2" font-size="34.5" text-anchor="middle" fill="#4472c4" textLength="712" lengthAdjust="spacingAndGlyphs">Evaluating the hydo-mophodynamic effect of</text>
<text x="1404.5" y="521.7" font-size="34.5" text-anchor="middle" textLength="661.5" lengthAdjust="spacingAndGlyphs"><tspan fill="#767171">submerged dike</tspan><tspan fill="#4472c4"> on salt marsh </tspan><tspan fill="#548235">vegetation</tspan></text>
<text x="1403.2" y="613.5" font-size="34.5" text-anchor="middle" fill="#4472c4" textLength="696.7" lengthAdjust="spacingAndGlyphs">Evaluating the wave attenuation induced by</text>
<text x="1404.5" y="657.1" font-size="34.5" text-anchor="middle" textLength="503" lengthAdjust="spacingAndGlyphs"><tspan fill="#548235">vegetation</tspan><tspan fill="#4472c4"> and </tspan><tspan fill="#767171">submerged dike</tspan></text>
<text x="913.6" y="737.6" font-size="40.2" fill="#000">(D)</text>
<rect x="973.2" y="722.6" width="847" height="271.4" fill="#fff" stroke="#111" stroke-width="2.6" stroke-dasharray="10.6,9.7" stroke-dashoffset="2"/>
<text x="988.8" y="764.2" font-size="39.3" textLength="245" lengthAdjust="spacingAndGlyphs" fill="#000">Model system</text>
<rect x="1016.9" y="782.1" width="237.5" height="82.3" fill="#e7e6e6" stroke="#000" stroke-width="2.6"/>
<text x="1135.0" y="836.4" font-size="35.2" text-anchor="middle" textLength="186.8" lengthAdjust="spacingAndGlyphs" fill="#000">Telemac-2d</text>
<rect x="1285.8" y="780.9" width="221.3" height="82.8" fill="#fff2cc" stroke="#000" stroke-width="2.6"/>
<text x="1396.7" y="835.2" font-size="35.2" text-anchor="middle" textLength="127.2" lengthAdjust="spacingAndGlyphs" fill="#000">Sisyphe</text>
<rect x="1547.9" y="780.9" width="221.0" height="82.8" fill="#dae3f3" stroke="#000" stroke-width="2.6"/>
<text x="1658.3" y="835.2" font-size="35.2" text-anchor="middle" textLength="152.0" lengthAdjust="spacingAndGlyphs" fill="#000">Tomawac</text>
<rect x="1016.9" y="906.3" width="245.5" height="63.8" fill="#e7e6e6" stroke="#000" stroke-width="2.6"/>
<text x="1139.0" y="951.3" font-size="35.2" text-anchor="middle" textLength="214.0" lengthAdjust="spacingAndGlyphs" fill="#000">Tidal process</text>
<rect x="1285.1" y="908.6" width="232.3" height="62.7" fill="#fff2cc" stroke="#000" stroke-width="2.6"/>
<text x="1401.7" y="952.0" font-size="35.2" text-anchor="middle" textLength="152.3" lengthAdjust="spacingAndGlyphs" fill="#000">Sediment</text>
<rect x="1543.3" y="908.6" width="232.5" height="62.7" fill="#dae3f3" stroke="#000" stroke-width="2.6"/>
<text x="1659.1" y="952.4" font-size="35.2" text-anchor="middle" textLength="91.2" lengthAdjust="spacingAndGlyphs" fill="#000">Wave</text>
<use href="#downArrow" x="1132.9" y="865.7"/>
<use href="#downArrow" x="1401.6" y="865"/>
<use href="#downArrow" x="1661.2" y="866.5"/>
</svg>
</body></html>
